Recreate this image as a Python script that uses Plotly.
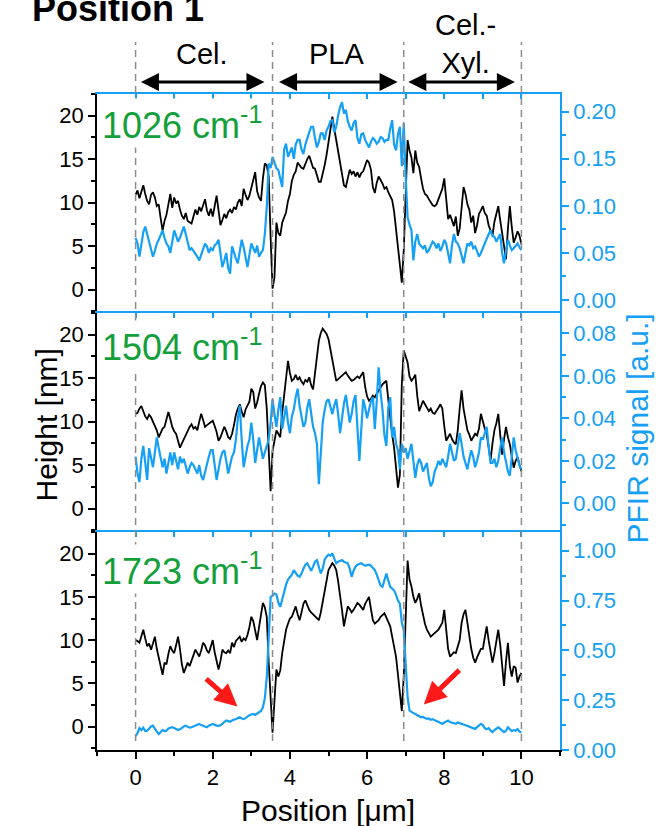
import plotly.graph_objects as go

# ---------------- data ----------------
# sampling positions along the line profile, in µm (0.05 µm steps)
positions = [round(i * 0.05, 2) for i in range(201)]

region_edges = [0.0, 3.55, 6.95, 10.0]
region_names = ["Cel.", "PLA", "Cel.-<br>Xyl."]
region_centers = [1.72, 5.2, 8.55]
region_arrows = [(0.10, 3.34), (3.68, 6.79), (7.03, 9.83)]
wavenumbers = ["1026", "1504", "1723"]

height_1026 = [
    10.9, 11.4, 10.5, 11.3, 12.0, 11.0, 10.2, 9.8, 10.9, 11.2, 10.6, 9.6, 9.8, 8.2, 6.8, 7.9, 8.6, 9.8, 11.0, 9.4,
    10.6, 9.9, 10.2, 9.2, 8.5, 8.1, 8.8, 7.9, 7.7, 7.6, 8.4, 9.2, 8.6, 9.5, 9.0, 9.6, 10.4, 9.1, 8.5, 9.3,
    8.4, 9.6, 10.8, 9.1, 7.4, 8.0, 8.7, 8.2, 8.9, 9.2, 8.8, 9.5, 9.2, 10.0, 10.4, 9.6, 11.6, 10.9, 10.3, 10.8,
    11.9, 12.6, 13.5, 11.3, 10.6, 10.2, 12.8, 14.5, 14.3, 13.0, 6.0, 0.1, 1.4, 7.7, 6.5, 6.2, 7.7, 8.3, 8.9, 10.2,
    11.0, 12.5, 13.2, 13.6, 14.6, 14.3, 14.0, 13.9, 14.5, 15.0, 15.4, 14.6, 14.0, 13.9, 13.2, 12.4, 12.4, 13.3, 14.3, 15.5,
    17.0, 18.6, 19.9, 18.5, 17.2, 16.0, 14.5, 13.2, 12.0, 11.8, 12.8, 13.8, 13.3, 13.6, 13.0, 13.5, 12.9, 13.4, 13.6, 14.3,
    14.9, 14.6, 13.8, 11.8, 11.1, 12.3, 13.0, 12.6, 12.2, 11.6, 11.8, 11.2, 10.8, 10.3, 9.0, 7.0, 5.5, 3.2, 0.8, 4.5,
    11.0, 17.2, 16.0, 15.2, 13.4, 16.0, 14.6, 14.1, 12.8, 11.6, 11.0, 10.8, 10.4, 10.0, 9.7, 9.6, 9.8, 10.4, 11.0, 11.6,
    12.8, 10.5, 8.1, 8.6, 7.8, 7.3, 8.4, 6.2, 7.0, 9.5, 11.8, 11.0, 9.8, 9.2, 7.7, 8.5, 6.5, 7.4, 8.7, 9.1,
    9.6, 8.8, 8.5, 7.4, 6.9, 6.2, 7.8, 8.9, 9.6, 8.0, 6.5, 5.0, 3.5, 7.0, 9.6, 7.2, 5.4, 6.0, 6.7, 6.2,
    5.2,
]
pfir_1026 = [
    .066, .060, .046, .058, .072, .078, .070, .064, .055, .046, .052, .060, .064, .070, .074, .066, .060, .057, .050, .062,
    .074, .068, .062, .066, .072, .078, .070, .060, .053, .055, .052, .050, .046, .042, .048, .055, .060, .057, .050, .055,
    .053, .058, .060, .064, .048, .035, .042, .050, .034, .028, .057, .050, .044, .039, .052, .064, .056, .044, .035, .048,
    .060, .055, .050, .058, .046, .050, .053, .070, .099, .145, .140, .152, .146, .140, .138, .128, .120, .160, .166, .152,
    .158, .162, .150, .165, .170, .170, .160, .155, .165, .173, .178, .184, .184, .172, .162, .168, .177, .177, .170, .180,
    .184, .190, .191, .178, .184, .196, .205, .210, .198, .202, .190, .184, .180, .188, .191, .172, .166, .176, .177, .170,
    .165, .162, .168, .172, .170, .166, .168, .173, .172, .168, .170, .170, .182, .191, .165, .159, .176, .184, .142, .188,
    .131, .088, .080, .074, .042, .062, .070, .060, .057, .055, .058, .050, .053, .058, .062, .060, .055, .060, .052, .057,
    .064, .060, .050, .039, .058, .070, .062, .060, .055, .048, .039, .050, .060, .058, .062, .055, .057, .052, .046, .050,
    .056, .060, .065, .070, .074, .068, .067, .062, .066, .070, .050, .039, .052, .064, .058, .053, .055, .058, .060, .056,
    .053,
]
height_1504 = [
    10.9, 11.0, 11.5, 11.8, 11.2, 10.6, 10.3, 10.8, 10.5, 10.0, 9.7, 9.0, 8.2, 8.8, 9.2, 9.4, 10.2, 11.1, 10.3, 9.4,
    8.9, 8.6, 7.8, 7.0, 7.5, 8.0, 8.6, 9.0, 9.4, 9.7, 9.2, 9.4, 9.0, 10.0, 10.9, 10.2, 9.4, 9.6, 9.8, 10.0,
    10.1, 9.5, 8.8, 7.8, 8.2, 8.8, 9.4, 8.9, 8.2, 8.0, 8.6, 9.6, 10.8, 11.5, 12.0, 11.2, 10.5, 11.4, 11.8, 12.3,
    13.8, 13.4, 11.5, 12.2, 13.2, 14.1, 14.5, 14.2, 11.5, 6.5, 2.0, 6.6, 7.8, 9.0, 8.6, 8.2, 11.0, 12.8, 14.5, 17.0,
    15.6, 14.7, 14.9, 15.4, 14.8, 15.1, 14.6, 14.3, 14.8, 14.6, 15.1, 14.2, 13.7, 15.6, 17.5, 19.3, 20.2, 20.7, 20.4, 20.1,
    19.5, 18.3, 17.0, 15.8, 14.7, 14.9, 15.1, 15.3, 15.6, 15.7, 15.3, 15.0, 14.7, 14.8, 15.0, 15.2, 15.0, 15.4, 15.7, 14.0,
    12.9, 12.4, 12.6, 13.0, 12.8, 13.2, 13.6, 14.0, 14.3, 14.5, 14.7, 12.5, 10.1, 8.5, 7.0, 4.5, 2.4, 3.9, 14.3, 18.2,
    17.4, 16.8, 15.2, 14.7, 15.0, 15.4, 13.0, 11.2, 11.8, 12.4, 12.0, 11.6, 11.2, 11.5, 11.0, 10.9, 11.2, 11.6, 12.0, 11.5,
    9.5, 7.8, 8.2, 8.6, 8.0, 7.6, 7.4, 9.0, 11.5, 13.6, 11.5, 10.0, 9.0, 8.5, 7.8, 8.2, 8.6, 8.4, 9.2, 10.9,
    10.0, 9.2, 8.6, 7.0, 5.5, 7.5, 9.0, 9.8, 10.9, 8.5, 6.2, 8.0, 9.4, 8.2, 7.4, 6.0, 4.7, 5.5, 5.9, 5.0,
    4.3,
]
pfir_1504 = [
    .022, .014, .010, .021, .027, .018, .011, .026, .022, .017, .024, .031, .026, .021, .017, .021, .014, .019, .024, .018,
    .024, .020, .016, .022, .019, .021, .017, .014, .017, .019, .018, .016, .014, .018, .013, .011, .015, .019, .022, .025,
    .025, .018, .011, .016, .021, .024, .025, .020, .014, .018, .022, .024, .030, .040, .046, .030, .017, .022, .027, .030,
    .038, .030, .019, .025, .031, .026, .021, .024, .027, .030, .038, .049, .042, .036, .044, .050, .035, .040, .046, .038,
    .033, .041, .044, .050, .054, .046, .040, .036, .038, .045, .049, .042, .036, .033, .028, .009, .025, .038, .044, .048,
    .049, .045, .042, .046, .049, .042, .033, .040, .047, .051, .044, .038, .042, .048, .051, .034, .020, .035, .049, .045,
    .040, .044, .048, .050, .035, .048, .064, .052, .044, .032, .027, .045, .050, .031, .036, .028, .025, .016, .028, .024,
    .026, .021, .024, .028, .020, .012, .018, .021, .019, .015, .017, .019, .012, .008, .010, .015, .017, .020, .018, .021,
    .019, .017, .022, .028, .024, .020, .021, .026, .033, .028, .022, .019, .016, .021, .025, .022, .017, .020, .024, .031,
    .030, .033, .036, .027, .019, .019, .021, .017, .020, .026, .031, .024, .020, .015, .013, .022, .031, .025, .021, .018,
    .016,
]
height_1723 = [
    10.0, 9.9, 9.7, 10.6, 11.2, 10.2, 9.3, 9.6, 8.9, 9.6, 10.4, 9.0, 8.0, 7.0, 6.0, 7.4, 7.2, 8.4, 9.3, 8.8,
    8.5, 9.4, 10.4, 9.0, 7.2, 6.2, 6.8, 7.4, 7.0, 7.6, 8.4, 8.9, 8.5, 8.1, 8.8, 9.7, 9.4, 8.8, 8.5, 9.3,
    10.0, 8.6, 7.5, 6.6, 7.6, 8.9, 8.6, 8.5, 8.8, 8.5, 9.7, 9.2, 9.9, 10.1, 10.4, 9.8, 10.2, 10.0, 10.6, 11.5,
    12.7, 12.2, 11.0, 10.0, 11.5, 13.0, 14.3, 13.8, 12.7, 7.4, 3.5, -0.7, 3.0, 6.6, 5.8, 6.5, 8.5, 9.8, 11.2, 11.9,
    12.5, 12.7, 13.2, 13.9, 13.0, 12.3, 13.2, 14.2, 14.6, 14.0, 13.5, 13.2, 13.0, 12.8, 12.6, 12.3, 13.2, 14.5, 15.4, 16.8,
    18.1, 18.5, 18.9, 18.6, 18.1, 16.8, 15.4, 13.5, 11.6, 12.6, 13.9, 13.6, 13.2, 13.5, 13.9, 14.3, 14.1, 13.8, 13.5, 14.2,
    14.6, 15.0, 13.6, 12.3, 11.9, 12.1, 12.3, 12.7, 12.9, 13.1, 12.6, 12.0, 11.6, 10.4, 9.0, 8.1, 6.0, 3.5, 1.8, 5.8,
    11.9, 19.2, 17.0, 16.2, 15.0, 14.3, 14.8, 15.4, 14.0, 12.8, 11.9, 11.2, 10.8, 10.4, 10.6, 10.8, 11.0, 11.2, 11.6, 12.0,
    13.5, 11.0, 9.0, 8.1, 8.4, 8.6, 8.5, 9.2, 10.0, 12.0, 13.0, 13.5, 12.0, 10.0, 9.0, 8.0, 7.4, 8.0, 8.6, 9.0,
    9.0, 10.5, 11.6, 10.0, 8.4, 7.4, 8.5, 10.0, 11.2, 9.5, 6.8, 4.7, 7.5, 9.7, 7.0, 5.8, 7.0, 6.8, 5.1, 5.8,
    6.2,
]
pfir_1723 = [
    .070, .085, .110, .100, .112, .095, .097, .108, .118, .122, .105, .092, .080, .090, .100, .095, .097, .108, .112, .114,
    .110, .105, .100, .104, .112, .118, .122, .116, .112, .114, .118, .122, .127, .131, .125, .120, .118, .114, .122, .128,
    .131, .126, .122, .120, .124, .132, .140, .148, .145, .142, .148, .150, .155, .160, .164, .158, .155, .160, .168, .175,
    .178, .181, .176, .184, .189, .196, .214, .260, .366, .567, .768, .775, .785, .780, .740, .718, .760, .800, .830, .855,
    .869, .880, .903, .890, .875, .869, .885, .910, .930, .937, .915, .900, .920, .945, .953, .920, .886, .910, .955, .970,
    .980, .975, .987, .960, .937, .945, .950, .953, .945, .940, .937, .910, .869, .900, .920, .930, .935, .937, .930, .925,
    .928, .930, .925, .912, .903, .880, .850, .825, .819, .850, .886, .850, .819, .810, .800, .780, .750, .735, .640, .600,
    .450, .265, .198, .190, .185, .181, .176, .170, .164, .166, .160, .156, .158, .152, .155, .148, .145, .142, .136, .131,
    .138, .145, .148, .140, .136, .132, .131, .138, .133, .131, .128, .124, .118, .114, .112, .108, .106, .115, .125, .131,
    .125, .110, .104, .110, .098, .089, .100, .108, .114, .106, .098, .090, .097, .114, .104, .095, .100, .097, .105, .092,
    .088,
]

# ---------------- styling ----------------
BLUE = "#15A0F5"
GREEN = "#13A03B"
FONT = "Arial, Liberation Sans, Helvetica, sans-serif"
W, H = 672, 826
ML, MR, MT, MB = 97, 112, 94, 76
PW, PH = W - ML - MR, H - MT - MB


def px_x(p):
    return (p - ML) / PW


def px_y(p):
    return (H - MB - p) / PH


d1 = px_y(532)  # boundary between panel 2 and 3
d2 = px_y(313)  # boundary between panel 1 and 2

fig = go.Figure()

panels = [
    ("x", "y", "x", "y2", height_1026, pfir_1026),
    ("x2", "y3", "x2", "y4", height_1504, pfir_1504),
    ("x3", "y5", "x4", "y6", height_1723, pfir_1723),
]
for xa, ya, xb, yb, h, s in panels:
    fig.add_trace(go.Scatter(x=positions, y=h, xaxis=xa, yaxis=ya, mode="lines",
                             line=dict(color="black", width=1.8), showlegend=False, hoverinfo="skip"))
    fig.add_trace(go.Scatter(x=positions, y=s, xaxis=xb, yaxis=yb, mode="lines",
                             line=dict(color=BLUE, width=2.2), showlegend=False, hoverinfo="skip"))

tickfont_k = dict(family=FONT, size=22, color="black")
tickfont_b = dict(family=FONT, size=22, color=BLUE)

top_axis = dict(range=[-1, 11], side="top", showline=True, linecolor=BLUE, linewidth=1.5,
                ticks="inside", tickcolor=BLUE, ticklen=5, tickwidth=1.5, tick0=0, dtick=1,
                showticklabels=False, showgrid=False, zeroline=False)


def left_axis(dom, anchor):
    return dict(domain=dom, anchor=anchor, range=[-2.7, 22.5], showline=True, linecolor="black",
                linewidth=1.5, ticks="outside", ticklen=7, tickwidth=1.5, tickcolor="black",
                tick0=0, dtick=5, tickfont=tickfont_k, showgrid=False, zeroline=False,
                minor=dict(ticks="outside", ticklen=4, tickwidth=1.5, tickcolor="black",
                           tick0=0, dtick=2.5, showgrid=False))


def right_axis(over, anchor, rng, dt):
    return dict(overlaying=over, anchor=anchor, side="right", range=rng, showline=True,
                linecolor=BLUE, linewidth=1.5, ticks="outside", ticklen=7, tickwidth=1.5,
                tickcolor=BLUE, tick0=0, dtick=dt, tickformat=".2f", tickfont=tickfont_b,
                showgrid=False, zeroline=False,
                minor=dict(ticks="outside", ticklen=4, tickwidth=1.5, tickcolor=BLUE,
                           tick0=0, dtick=dt / 2, showgrid=False))


fig.update_layout(
    width=W, height=H, margin=dict(l=ML, r=MR, t=MT, b=MB),
    paper_bgcolor="white", plot_bgcolor="white",
    font=dict(family=FONT, color="black"),
    xaxis=dict(domain=[0, 1], anchor="y", **top_axis),
    xaxis2=dict(domain=[0, 1], anchor="y3", **top_axis),
    xaxis3=dict(domain=[0, 1], anchor="y5", side="bottom", range=[-1, 11], showline=True,
                linecolor="black", linewidth=1.5, ticks="outside", ticklen=7, tickwidth=1.5,
                tickcolor="black", tick0=0, dtick=2, tickfont=tickfont_k, showgrid=False,
                zeroline=False,
                minor=dict(ticks="outside", ticklen=4, tickwidth=1.5, tickcolor="black",
                           tick0=0, dtick=1, showgrid=False)),
    xaxis4=dict(overlaying="x3", anchor="y5", **top_axis),
    yaxis=left_axis([d2, 1], "x"),
    yaxis2=right_axis("y", "x", [-0.0138, 0.2188], 0.05),
    yaxis3=left_axis([d1, d2], "x2"),
    yaxis4=right_axis("y3", "x2", [-0.0135, 0.0896], 0.02),
    yaxis5=left_axis([0, d1], "x3"),
    yaxis6=right_axis("y5", "x3", [0, 1.094], 0.25),
)

# dashed region boundaries
for xe in region_edges:
    fig.add_shape(type="line", xref="x3", yref="paper", x0=xe, x1=xe,
                  y0=px_y(741), y1=px_y(42),
                  line=dict(color="#8c8c8c", width=1.5, dash="7px,5px"))

ann = []
# header: region names and double arrows
for name, cx, (a0, a1) in zip(region_names, region_centers, region_arrows):
    ycen = px_y(44) if "<br>" in name else px_y(54)
    ann.append(dict(x=cx, y=ycen, xref="x3", yref="paper", text=name, showarrow=False,
                    font=dict(family=FONT, size=29, color="black"), xanchor="center",
                    yanchor="middle"))
    ann.append(dict(x=a1, y=px_y(82), xref="x3", yref="paper", ax=a0, ay=0, axref="x3",
                    ayref="pixel", showarrow=True, arrowside="end+start", arrowhead=2,
                    arrowsize=1.2, arrowwidth=3, arrowcolor="black", text=""))

# wavenumber labels
for wn, yc in zip(wavenumbers, [123, 345, 569]):
    ann.append(dict(x=px_x(100), y=px_y(yc), xref="paper", yref="paper",
                    text=f"{wn} cm<sup>-1</sup>", showarrow=False, xanchor="left",
                    yanchor="middle", bgcolor="white", borderpad=1,
                    font=dict(family=FONT, size=36, color=GREEN)))

# red arrows (panel 3)
for (tx, ty), (hx, hy) in [((1.79, 5.67), (2.64, 2.33)), ((8.43, 6.7), (7.47, 2.56))]:
    ann.append(dict(x=hx, y=hy, xref="x3", yref="y5", ax=tx, ay=ty, axref="x3", ayref="y5",
                    showarrow=True, arrowhead=2, arrowsize=0.9, arrowwidth=5,
                    arrowcolor="#FF1A1A", text=""))

# titles
ann.append(dict(x=px_x(27), y=px_y(425), xref="paper", yref="paper", text="Height [nm]",
                textangle=-90, showarrow=False, font=dict(family=FONT, size=30, color="black")))
ann.append(dict(x=px_x(655), y=px_y(429), xref="paper", yref="paper",
                text="PFIR signal [a.u.]", textangle=-90, showarrow=False,
                font=dict(family=FONT, size=30, color=BLUE)))
ann.append(dict(x=px_x(328), y=px_y(810), xref="paper", yref="paper", text="Position [μm]",
                showarrow=False, yanchor="middle",
                font=dict(family=FONT, size=30, color="black")))
ann.append(dict(x=px_x(30), y=px_y(8), xref="paper", yref="paper", text="<b>Position 1</b>",
                showarrow=False, xanchor="left", yanchor="middle",
                font=dict(family=FONT, size=36, color="black")))

fig.update_layout(annotations=ann)
fig.write_html("out.html", config={"displayModeBar": False},
               post_script="document.body.style.margin='0';document.body.style.overflow='hidden';")
